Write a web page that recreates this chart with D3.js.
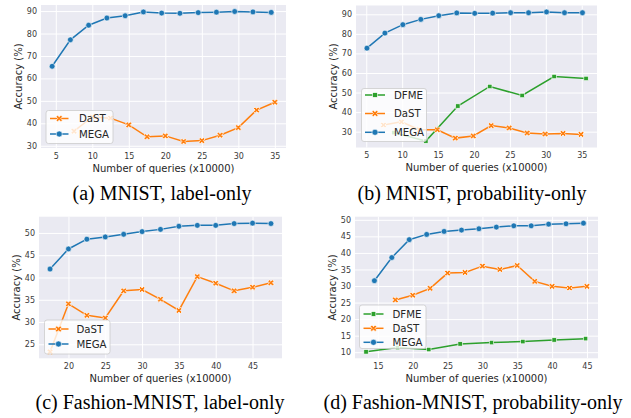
<!DOCTYPE html>
<html><head><meta charset="utf-8">
<script src="https://cdn.jsdelivr.net/npm/d3@7"></script>
<style>
html,body{margin:0;padding:0;background:#fff;}
svg{display:block;}
</style></head>
<body>
<svg id="chart" width="631" height="418"></svg>
<script>
// ---------- Data ----------
// (a) MNIST, label-only
const a_megaX = [4.5, 7, 9.5, 12, 14.5, 17, 19.5, 22, 24.5, 27, 29.5, 32, 34.5];
const a_megaY = [65.4, 77.2, 83.7, 86.9, 87.9, 89.6, 89.1, 89.0, 89.3, 89.5, 89.8, 89.6, 89.4];
const a_dastX = [7.5, 10, 12.5, 15, 17.5, 20, 22.5, 25, 27.5, 30, 32.5, 35];
const a_dastY = [36.5, 42.8, 42.3, 39.3, 34.0, 34.4, 31.9, 32.3, 34.7, 38.1, 45.9, 49.4];
// (b) MNIST, probability-only
const b_megaX = [5.1, 7.6, 10.1, 12.6, 15.1, 17.6, 20.1, 22.6, 25.1, 27.6, 30.1, 32.6, 35.1];
const b_megaY = [72.7, 80.4, 84.7, 87.4, 89.3, 90.7, 90.5, 90.6, 90.8, 90.8, 91.2, 90.8, 90.8];
const b_dastX = [7.4, 9.9, 12.4, 14.9, 17.4, 19.9, 22.4, 24.9, 27.4, 29.9, 32.4, 34.9];
const b_dastY = [33.4, 35.0, 31.0, 31.0, 26.7, 27.8, 33.1, 31.9, 29.3, 28.8, 29.1, 28.6];
const b_dfmeX = [8.85, 13.3, 17.75, 22.2, 26.7, 31.15, 35.6];
const b_dfmeY = [29.5, 25.2, 43.1, 53.1, 48.5, 58.2, 57.2];
// (c) Fashion-MNIST, label-only
const c_megaX = [17.5, 20, 22.5, 25, 27.5, 30, 32.5, 35, 37.5, 40, 42.5, 45, 47.5];
const c_megaY = [41.9, 46.4, 48.6, 49.1, 49.7, 50.3, 50.8, 51.5, 51.7, 51.7, 52.1, 52.2, 52.1];
const c_dastX = [17.5, 20, 22.5, 25, 27.5, 30, 32.5, 35, 37.5, 40, 42.5, 45, 47.5];
const c_dastY = [23.3, 34.1, 31.5, 30.9, 37.0, 37.3, 35.1, 32.6, 40.2, 38.7, 37.0, 37.8, 38.8];
// (d) Fashion-MNIST, probability-only
const d_megaX = [14.5, 17, 19.5, 22, 24.5, 27, 29.5, 32, 34.5, 37, 39.5, 42, 44.5];
const d_megaY = [31.6, 38.6, 44.0, 45.6, 46.5, 46.9, 47.3, 47.8, 48.2, 48.2, 48.7, 48.8, 49.0];
const d_dastX = [17.5, 20, 22.5, 25, 27.5, 30, 32.5, 35, 37.5, 40, 42.5, 45];
const d_dastY = [25.8, 27.2, 29.3, 33.9, 34.1, 36.0, 35.0, 36.2, 31.4, 29.9, 29.4, 29.9];
const d_dfmeX = [13.3, 17.8, 22.3, 26.8, 31.3, 35.8, 40.3, 44.8];
const d_dfmeY = [10.1, 11.4, 10.8, 12.5, 12.9, 13.2, 13.7, 14.1];

// Ticks
const a_xTicks = [5, 10, 15, 20, 25, 30, 35];
const a_yTicks = [30, 40, 50, 60, 70, 80, 90];
const b_xTicks = [5, 10, 15, 20, 25, 30, 35];
const b_yTicks = [30, 40, 50, 60, 70, 80, 90];
const c_xTicks = [20, 25, 30, 35, 40, 45];
const c_yTicks = [25, 30, 35, 40, 45, 50];
const d_xTicks = [15, 20, 25, 30, 35, 40, 45];
const d_yTicks = [10, 15, 20, 25, 30, 35, 40, 45, 50];

const captions = ["(a) MNIST, label-only", "(b) MNIST, probability-only",
                  "(c) Fashion-MNIST, label-only", "(d) Fashion-MNIST, probability-only"];
const xLabel = "Number of queries (x10000)";
const yLabel = "Accuracy (%)";

// ---------- Styles ----------
const COLORS = {MEGA: "#1f77b4", DaST: "#ff7f0e", DFME: "#2ca02c"};
const zip = (xs, ys) => xs.map((x, i) => ({x, y: ys[i]}));

const panels = [
  {box: {l: 41, r: 286, t: 5, b: 148}, xTicks: a_xTicks, yTicks: a_yTicks, caption: captions[0], capPos: [162, 200],
   series: [{name: "DaST", data: zip(a_dastX, a_dastY)}, {name: "MEGA", data: zip(a_megaX, a_megaY)}],
   legend: {x: 46, y: 110.5, w: 67, h: 33, rows: [118.5, 134], lineX: [50, 68.5], textX: 79}},
  {box: {l: 356, r: 597, t: 5.5, b: 147.5}, xTicks: b_xTicks, yTicks: b_yTicks, caption: captions[1], capPos: [472, 200],
   series: [{name: "DFME", data: zip(b_dfmeX, b_dfmeY)}, {name: "DaST", data: zip(b_dastX, b_dastY)}, {name: "MEGA", data: zip(b_megaX, b_megaY)}],
   legend: {x: 361.5, y: 88.5, w: 65, h: 53, rows: [95, 113.5, 132.3], lineX: [365, 385], textX: 394}},
  {box: {l: 39, r: 282, t: 216.7, b: 358.3}, xTicks: c_xTicks, yTicks: c_yTicks, caption: captions[2], capPos: [160, 409],
   series: [{name: "DaST", data: zip(c_dastX, c_dastY)}, {name: "MEGA", data: zip(c_megaX, c_megaY)}],
   legend: {x: 44.5, y: 320, w: 65.5, h: 34, rows: [329, 344], lineX: [48.5, 68.5], textX: 76.5}},
  {box: {l: 355, r: 598, t: 216.7, b: 358.3}, xTicks: d_xTicks, yTicks: d_yTicks, caption: captions[3], capPos: [473, 409],
   series: [{name: "DFME", data: zip(d_dfmeX, d_dfmeY)}, {name: "DaST", data: zip(d_dastX, d_dastY)}, {name: "MEGA", data: zip(d_megaX, d_megaY)}],
   legend: {x: 359.5, y: 305, w: 66.5, h: 43.5, rows: [314, 328.3, 342.3], lineX: [363.5, 383.5], textX: 392.5}}
];

const svg = d3.select("#chart");
const FONT = "'DejaVu Sans', sans-serif";

function marker(g, name, x, y, scale) {
  const s = scale || 1;
  if (name === "MEGA") {
    g.append("circle").attr("cx", x).attr("cy", y).attr("r", 2.9 * s)
      .attr("fill", COLORS.MEGA).attr("stroke", "#fff").attr("stroke-width", 0.6);
  } else if (name === "DaST") {
    g.append("path").attr("d", d3.symbol().type(d3.symbolCross).size(24 * s * s)())
      .attr("transform", `translate(${x},${y}) rotate(45)`)
      .attr("fill", COLORS.DaST).attr("stroke", "#fff").attr("stroke-width", 0.7);
  } else {
    g.append("rect").attr("x", x - 2.2 * s).attr("y", y - 2.2 * s).attr("width", 4.4 * s).attr("height", 4.4 * s)
      .attr("fill", COLORS.DFME).attr("stroke", "#fff").attr("stroke-width", 0.6);
  }
}

panels.forEach(p => {
  const all = p.series.flatMap(s => s.data);
  const xe = d3.extent(all, d => d.x), ye = d3.extent(all, d => d.y);
  const xp = (xe[1] - xe[0]) * 0.05, yp = (ye[1] - ye[0]) * 0.05;
  const x = d3.scaleLinear().domain([xe[0] - xp, xe[1] + xp]).range([p.box.l, p.box.r]);
  const y = d3.scaleLinear().domain([ye[0] - yp, ye[1] + yp]).range([p.box.b, p.box.t]);
  const g = svg.append("g");

  g.append("rect").attr("x", p.box.l).attr("y", p.box.t)
    .attr("width", p.box.r - p.box.l).attr("height", p.box.b - p.box.t).attr("fill", "#eaeaf2");

  g.append("g").attr("transform", `translate(0,${p.box.b})`)
    .call(d3.axisBottom(x).tickValues(p.xTicks).tickSize(-(p.box.b - p.box.t)).tickPadding(5).tickFormat(d3.format("d")))
    .call(a => a.select(".domain").remove())
    .call(a => a.selectAll("line").attr("stroke", "#fff").attr("stroke-width", 1))
    .call(a => a.selectAll("text").attr("fill", "#3a3a3a").attr("font-size", 8).attr("font-family", FONT));
  g.append("g").attr("transform", `translate(${p.box.l},0)`)
    .call(d3.axisLeft(y).tickValues(p.yTicks).tickSize(-(p.box.r - p.box.l)).tickPadding(4).tickFormat(d3.format("d")))
    .call(a => a.select(".domain").remove())
    .call(a => a.selectAll("line").attr("stroke", "#fff").attr("stroke-width", 1))
    .call(a => a.selectAll("text").attr("fill", "#3a3a3a").attr("font-size", 8).attr("font-family", FONT));

  g.append("text").attr("x", (p.box.l + p.box.r) / 2).attr("y", p.box.b + 23.5)
    .attr("text-anchor", "middle").attr("font-size", 10).attr("font-family", FONT).attr("fill", "#262626").text(xLabel);
  g.append("text").attr("transform", `translate(${p.box.l - 19},${(p.box.t + p.box.b) / 2}) rotate(-90)`)
    .attr("text-anchor", "middle").attr("font-size", 10).attr("font-family", FONT).attr("fill", "#262626").text(yLabel);

  const line = d3.line().x(d => x(d.x)).y(d => y(d.y));
  p.series.forEach(s => {
    g.append("path").datum(s.data).attr("d", line).attr("fill", "none")
      .attr("stroke", COLORS[s.name]).attr("stroke-width", 1.5);
    s.data.forEach(d => marker(g, s.name, x(d.x), y(d.y)));
  });

  const L = p.legend;
  g.append("rect").attr("x", L.x).attr("y", L.y).attr("width", L.w).attr("height", L.h)
    .attr("rx", 2.5).attr("fill", "#fff").attr("fill-opacity", 0.8).attr("stroke", "#cccccc").attr("stroke-width", 0.8);
  p.series.forEach((s, i) => {
    const ry = L.rows[i];
    g.append("line").attr("x1", L.lineX[0]).attr("x2", L.lineX[1]).attr("y1", ry).attr("y2", ry)
      .attr("stroke", COLORS[s.name]).attr("stroke-width", 1.5);
    marker(g, s.name, (L.lineX[0] + L.lineX[1]) / 2, ry, 1.05);
    g.append("text").attr("x", L.textX).attr("y", ry).attr("dy", "0.35em")
      .attr("font-size", 10.2).attr("font-family", FONT).attr("fill", "#262626").text(s.name);
  });

  svg.append("text").attr("x", p.capPos[0]).attr("y", p.capPos[1]).attr("text-anchor", "middle")
    .attr("font-size", 20).attr("font-family", "'Liberation Serif', 'Times New Roman', serif").attr("fill", "#000")
    .text(p.caption);
});
</script>
</body></html>
